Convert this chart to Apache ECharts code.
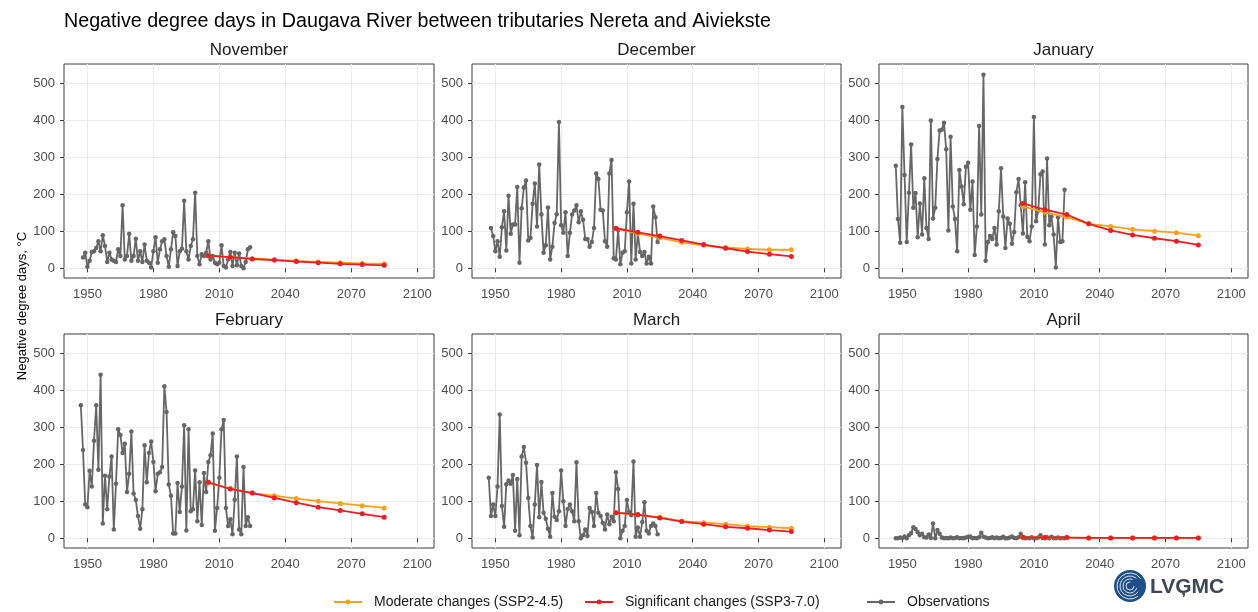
<!DOCTYPE html>
<html>
<head>
<meta charset="utf-8">
<title>Negative degree days</title>
<script src="https://cdn.jsdelivr.net/npm/echarts@6/dist/echarts.min.js"></script>
<style>
  html, body { margin: 0; padding: 0; background: #fff; }
  #chart { width: 1258px; height: 612px; }
</style>
</head>
<body>
<div id="chart"></div>
<script>
// one panel per month
var months = ['November', 'December', 'January', 'February', 'March', 'April'];

// first year of the observation record in each panel
var obsStart = [1948, 1948, 1947, 1947, 1947, 1947];

// observed negative degree days, one value per year
var obsNov = [29, 42, 4, 20, 44, 46, 55, 73, 46, 89, 60, 17, 42, 24, 20, 17, 51, 33, 170, 24,
  33, 93, 20, 33, 80, 20, 46, 17, 64, 20, 15, 2, 46, 84, 15, 51, 73, 78, 33, 4,
  51, 97, 87, 6, 46, 53, 182, 46, 24, 60, 78, 204, 33, 11, 38, 33, 42, 73, 24, 33,
  15, 11, 15, 62, 6, 2, 24, 44, 6, 42, 8, 40, 6, 0, 17, 51, 57];
var obsDec = [109, 87, 46, 73, 31, 111, 154, 48, 196, 93, 118, 118, 219, 15, 162, 218, 237, 75, 82, 174,
  229, 113, 280, 145, 42, 62, 164, 24, 58, 122, 146, 395, 116, 96, 151, 33, 96, 145, 156, 170,
  124, 154, 131, 79, 78, 58, 71, 109, 256, 241, 158, 156, 73, 58, 256, 292, 27, 24, 103, 11,
  42, 46, 151, 234, 13, 174, 24, 94, 44, 33, 44, 13, 31, 13, 167, 138, 71];
var obsJan = [277, 133, 69, 435, 252, 71, 204, 334, 163, 203, 84, 175, 91, 243, 109, 79, 399, 134, 163, 295,
  372, 374, 393, 321, 102, 355, 167, 133, 46, 265, 221, 173, 274, 285, 158, 234, 36, 113, 384, 145,
  522, 20, 71, 87, 79, 109, 64, 154, 270, 140, 55, 134, 120, 66, 98, 205, 241, 170, 94, 232,
  85, 73, 113, 408, 127, 156, 254, 261, 64, 296, 116, 140, 91, 2, 138, 71, 73, 212];
var obsFeb = [359, 238, 91, 84, 182, 140, 263, 359, 185, 441, 40, 169, 78, 167, 221, 24, 147, 294, 279, 230,
  255, 125, 174, 288, 121, 103, 60, 26, 78, 251, 151, 230, 261, 206, 127, 174, 178, 192, 410, 341,
  145, 115, 13, 13, 149, 71, 140, 305, 21, 294, 73, 78, 183, 46, 151, 36, 176, 125, 206, 224,
  283, 20, 82, 163, 294, 319, 82, 33, 51, 11, 104, 221, 24, 11, 192, 33, 57, 33];
var obsMar = [163, 60, 91, 60, 140, 334, 87, 31, 146, 156, 147, 171, 20, 160, 8, 221, 246, 204, 109, 33,
  2, 91, 198, 57, 152, 69, 53, 26, 4, 122, 58, 49, 73, 183, 100, 33, 79, 91, 73, 46,
  205, 46, 0, 8, 24, 6, 82, 71, 33, 122, 69, 60, 42, 24, 64, 38, 58, 46, 178, 133,
  0, 20, 33, 103, 71, 62, 207, 4, 29, 4, 44, 97, 20, 13, 33, 40, 33, 11];
var obsApr = [0, 0, 2, 0, 5, 0, 8, 14, 30, 25, 16, 8, 12, 3, 2, 10, 1, 40, 0, 22,
  12, 2, 0, 1, 0, 2, 0, 1, 3, 0, 1, 0, 2, 4, 5, 0, 1, 0, 3, 15,
  4, 2, 0, 1, 3, 0, 2, 0, 1, 4, 0, 0, 2, 5, 1, 0, 3, 12, 2, 0,
  1, 0, 3, 0, 0, 2, 8, 1, 0, 3, 0, 4, 1, 0, 2, 0, 1, 0];

// scenario years (decade centres)
var projYears = [2005, 2015, 2025, 2035, 2045, 2055, 2065, 2075, 2085];

// SSP2-4.5
var modNov = [34, 30, 26, 23, 20, 17, 15, 13, 12];
var modDec = [107, 94, 82, 70, 62, 56, 52, 50, 50];
var modJan = [167, 151, 138, 120, 113, 105, 100, 96, 88];
var modFeb = [150, 134, 122, 115, 107, 100, 94, 88, 82];
var modMar = [69, 63, 57, 46, 42, 38, 33, 30, 27];
var modApr = [3, 2, 2, 1, 1, 1, 1, 1, 1];

// SSP3-7.0
var sigNov = [34, 30, 25, 22, 18, 15, 12, 10, 8];
var sigDec = [108, 97, 87, 75, 64, 54, 45, 38, 32];
var sigJan = [175, 158, 145, 120, 102, 90, 81, 73, 63];
var sigFeb = [151, 133, 122, 109, 96, 84, 75, 66, 57];
var sigMar = [69, 64, 55, 45, 38, 31, 27, 22, 18];
var sigApr = [3, 2, 2, 1, 1, 1, 1, 1, 1];

// axis ticks
var xTicks = [1950, 1980, 2010, 2040, 2070, 2100];
var yTicks = [0, 100, 200, 300, 400, 500];

var obsAll = [obsNov, obsDec, obsJan, obsFeb, obsMar, obsApr];
var modAll = [modNov, modDec, modJan, modFeb, modMar, modApr];
var sigAll = [sigNov, sigDec, sigJan, sigFeb, sigMar, sigApr];

var NAME_MOD = 'Moderate changes (SSP2-4.5)';
var NAME_SIG = 'Significant changes (SSP3-7.0)';
var NAME_OBS = 'Observations';

var FONT = '"Liberation Sans", Arial, sans-serif';
var colLeft = [64, 472, 879];
var colW = [370, 369, 369];
var rowTop = [64, 334];
var panelH = 214;

function pairs(xs, ys) {
  return ys.map(function (v, i) { return [xs[i], v]; });
}
function yearsFrom(start, n) {
  var out = [];
  for (var i = 0; i < n; i++) out.push(start + i);
  return out;
}

var grids = [], xAxes = [], yAxes = [], series = [], graphics = [];

months.forEach(function (m, i) {
  var c = i % 3, r = Math.floor(i / 3);
  grids.push({
    left: colLeft[c], top: rowTop[r], width: colW[c], height: panelH,
    show: true, borderColor: '#3a3a3a', borderWidth: 1, backgroundColor: '#fff'
  });
  xAxes.push({
    type: 'value', gridIndex: i, min: 1939.35, max: 2107.65,
    axisLine: { show: false },
    axisTick: { show: true, length: 4, lineStyle: { color: '#3a3a3a' }, customValues: xTicks },
    axisLabel: { color: '#4d4d4d', fontSize: 13, fontFamily: FONT, margin: 10, customValues: xTicks,
      formatter: function (v) { return String(v); } },
    splitLine: { show: true, lineStyle: { color: '#ebebeb', width: 1 } }
  });
  yAxes.push({
    type: 'value', gridIndex: i, min: -26.25, max: 551.25,
    axisLine: { show: false },
    axisTick: { show: true, length: 4, lineStyle: { color: '#3a3a3a' }, customValues: yTicks },
    axisLabel: { color: '#4d4d4d', fontSize: 13, fontFamily: FONT, margin: 9, customValues: yTicks },
    splitLine: { show: true, lineStyle: { color: '#ebebeb', width: 1 } }
  });

  var obs = obsAll[i];
  series.push({
    name: NAME_OBS, type: 'line', xAxisIndex: i, yAxisIndex: i,
    data: pairs(yearsFrom(obsStart[i], obs.length), obs),
    symbol: 'circle', symbolSize: 4.5, showAllSymbol: true,
    itemStyle: { color: '#666666' }, lineStyle: { color: '#666666', width: 1.8 }, z: 2
  });
  series.push({
    name: NAME_MOD, type: 'line', xAxisIndex: i, yAxisIndex: i,
    data: pairs(projYears, modAll[i]),
    symbol: 'circle', symbolSize: 5,
    itemStyle: { color: '#F7A11E' }, lineStyle: { color: '#F7A11E', width: 1.8 }, z: 3
  });
  series.push({
    name: NAME_SIG, type: 'line', xAxisIndex: i, yAxisIndex: i,
    data: pairs(projYears, sigAll[i]),
    symbol: 'circle', symbolSize: 5,
    itemStyle: { color: '#EE1D25' }, lineStyle: { color: '#EE1D25', width: 1.8 }, z: 4
  });

  // facet strip label
  graphics.push({
    type: 'text', x: colLeft[c] + colW[c] / 2, y: rowTop[r] - 14,
    style: { text: m, font: '17px ' + FONT, fill: '#1a1a1a', textAlign: 'center', textVerticalAlign: 'middle' }
  });
});

// y axis title
graphics.push({
  type: 'text', x: 22, y: 306, rotation: Math.PI / 2,
  style: { text: 'Negative degree days, °C', font: '13px ' + FONT, fill: '#000', textAlign: 'center', textVerticalAlign: 'middle' }
});

// LVGMC logo
graphics.push({ type: 'circle', shape: { cx: 1130, cy: 586, r: 16 }, style: { fill: '#1d4f8b' } });
[4, 7, 10, 13].forEach(function (rr, k) {
  graphics.push({
    type: 'arc', shape: { cx: 1130, cy: 586, r: rr, startAngle: 0.3 * k, endAngle: 0.3 * k + 4.8 },
    style: { stroke: 'rgba(255,255,255,0.85)', lineWidth: 1, fill: null }
  });
});
graphics.push({
  type: 'text', x: 1150, y: 587,
  style: { text: 'LVĢMC', font: 'bold 21px ' + FONT, fill: '#3d4652', textVerticalAlign: 'middle' }
});

var legendBase = {
  top: 595, itemWidth: 28, itemHeight: 6, itemGap: 10, padding: 0,
  textStyle: { fontSize: 14, fontFamily: FONT, color: '#1a1a1a', padding: [0, 0, 0, 7] }
};

var option = {
  animation: false,
  backgroundColor: '#fff',
  title: {
    text: 'Negative degree days in Daugava River between tributaries Nereta and Aiviekste',
    left: 59, top: 7,
    textStyle: { fontSize: 19.7, fontWeight: 'normal', color: '#000', fontFamily: FONT }
  },
  legend: [
    Object.assign({}, legendBase, { left: 333, data: [NAME_MOD] }),
    Object.assign({}, legendBase, { left: 584, data: [NAME_SIG] }),
    Object.assign({}, legendBase, { left: 866, data: [NAME_OBS] })
  ],
  grid: grids,
  xAxis: xAxes,
  yAxis: yAxes,
  series: series,
  graphic: graphics
};

var chart = echarts.init(document.getElementById('chart'));
chart.setOption(option);
</script>
</body>
</html>
